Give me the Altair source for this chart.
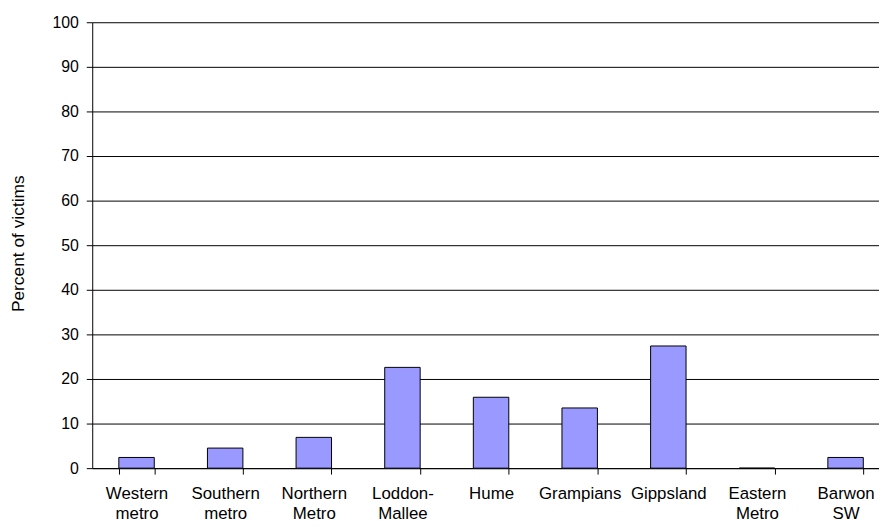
import altair as alt
import pandas as pd

regions = ["Western metro", "Southern metro", "Northern Metro", "Loddon-Mallee",
           "Hume", "Grampians", "Gippsland", "Eastern Metro", "Barwon SW"]
percent = [2.4, 4.5, 6.9, 22.6, 15.9, 13.5, 27.4, 0.0, 2.4]
y_ticks = list(range(0, 101, 10))

df = pd.DataFrame({"region": regions, "percent": percent})

FONT = "Liberation Sans"

chart = alt.Chart(df).mark_bar(
    color="#9999FF", stroke="black", strokeWidth=1
).encode(
    x=alt.X("region:N", sort=regions, title=None,
            scale=alt.Scale(paddingInner=0.6, paddingOuter=0.3, range=[0, 805]),
            axis=alt.Axis(labelAngle=0, tickBand="extent", tickSize=6, tickColor="black",
                          domainColor="black", labelPadding=12, labelFont=FONT,
                          labelFontSize=17, labelColor="black", labelLineHeight=20,
                          labelExpr="split(replace(datum.label, '-', '- '), ' ')",
                          grid=False)),
    y=alt.Y("percent:Q", title="Percent of victims",
            scale=alt.Scale(domain=[0, 100], nice=False),
            axis=alt.Axis(values=y_ticks, grid=True, gridColor="black", gridWidth=1,
                          gridOpacity=1, tickSize=6, tickColor="black", domainColor="black",
                          labelPadding=8, labelFont=FONT, labelFontSize=16,
                          labelColor="black", titleFont=FONT, titleFontSize=17.5,
                          titleFontWeight="normal", titleColor="black",
                          titleX=-65, titleY=223)),
).properties(
    width=794, height=450,
    autosize=alt.AutoSizeParams(type="none"),
    padding={"left": 85, "top": 12, "right": 0, "bottom": 57},
).configure_view(stroke=None)

chart.save("out.html", embed_options={"renderer": "svg", "actions": False})
